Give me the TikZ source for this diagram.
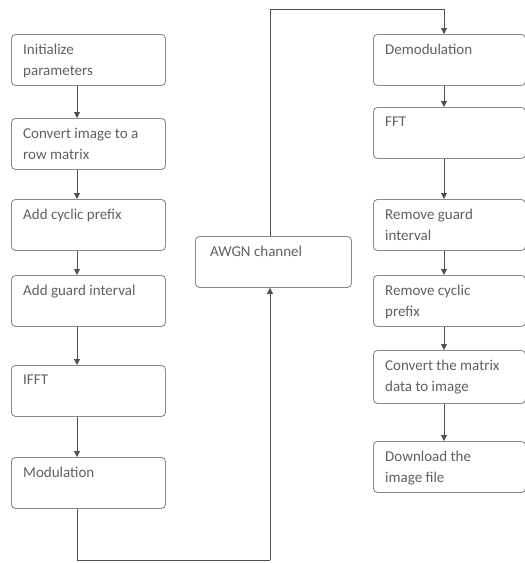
\documentclass[tikz,border=0pt]{standalone}
\usepackage{fontspec}
\setmainfont{Carlito}
\usetikzlibrary{arrows.meta,calc}
\definecolor{boxline}{HTML}{8A8A8A}
\definecolor{txtcol}{HTML}{606060}
\definecolor{conn}{HTML}{505050}
\tikzset{
  stepbox/.style={draw=boxline, line width=0.9pt, rounded corners=4pt, minimum width=154pt, minimum height=51pt, inner sep=0pt, anchor=north west},
  widebox/.style={stepbox, minimum width=152pt},
  lbl/.style={anchor=north west, inner sep=0pt, align=left, text=txtcol, font=\fontsize{15pt}{21pt}\selectfont},
  arr/.style={draw=conn, line width=0.8pt, -{Triangle[length=6pt,width=6pt]}},
  ln/.style={draw=conn, line width=0.8pt}
}
\begin{document}
\begin{tikzpicture}[x=1pt,y=-1pt]
\useasboundingbox (0,0) rectangle (525,563);
% left column
\node[stepbox] (b1) at (11,34) {};
\node[stepbox] (b2) at (11,118) {};
\node[stepbox] (b3) at (11,199) {};
\node[stepbox] (b4) at (11,275) {};
\node[stepbox] (b5) at (11,365) {};
\node[stepbox] (b6) at (11,457) {};
% middle
\node[widebox, minimum width=156pt] (aw) at (195,236) {};
% right column
\node[widebox] (r1) at (373,34) {};
\node[widebox] (r2) at (373,107) {};
\node[widebox] (r3) at (373,199) {};
\node[widebox] (r4) at (373,275) {};
\node[widebox, minimum height=53pt] (r5) at (373,350) {};
\node[widebox] (r6) at (373,441) {};
% labels
\node[lbl] (t1) at ($(b1.north west)+(12,10)$) {Initialize\\parameters};
\node[lbl] (t2) at ($(b2.north west)+(12,10)$) {Convert image to a\\row matrix};
\node[lbl] (t3) at ($(b3.north west)+(12,10)$) {Add cyclic prefix};
\node[lbl] (t4) at ($(b4.north west)+(12,10)$) {Add guard interval};
\node[lbl] (t5) at ($(b5.north west)+(12,10)$) {IFFT};
\node[lbl] (t6) at ($(b6.north west)+(12,10)$) {Modulation};
\node[lbl] (ta) at ($(aw.north west)+(15,10)$) {AWGN channel};
\node[lbl] (u1) at ($(r1.north west)+(12,10)$) {Demodulation};
\node[lbl] (u2) at ($(r2.north west)+(12,10)$) {FFT};
\node[lbl] (u3) at ($(r3.north west)+(12,10)$) {Remove guard\\interval};
\node[lbl] (u4) at ($(r4.north west)+(12,10)$) {Remove cyclic\\prefix};
\node[lbl] (u5) at ($(r5.north west)+(12,10)$) {Convert the matrix\\data to image};
\node[lbl] (u6) at ($(r6.north west)+(12,10)$) {Download the\\image file};
% left arrows (x = 77)
\foreach \a/\b in {b1/b2,b2/b3,b3/b4,b4/b5,b5/b6}
  \draw[arr] ($(\a.south west)+(66,0)$) -- ($(\b.north west)+(66,0)$);
% right arrows (x = 444)
\foreach \a/\b in {r1/r2,r2/r3,r3/r4,r4/r5,r5/r6}
  \draw[arr] ($(\a.south west)+(71,0)$) -- ($(\b.north west)+(71,0)$);
% channel connectors
\coordinate (c1) at (77,560);
\coordinate (c2) at (270,560);
\coordinate (c3) at (270,9);
\coordinate (c4) at (444,9);
\draw[ln] ($(b6.south west)+(66,0)$) -- (c1) -- (c2);
\draw[arr] (c2) -- (aw.south -| c2);
\draw[ln] (aw.north -| c3) -- (c3) -- (c4);
\draw[arr] (c4) -- ($(r1.north west)+(71,0)$);
\end{tikzpicture}
\end{document}
